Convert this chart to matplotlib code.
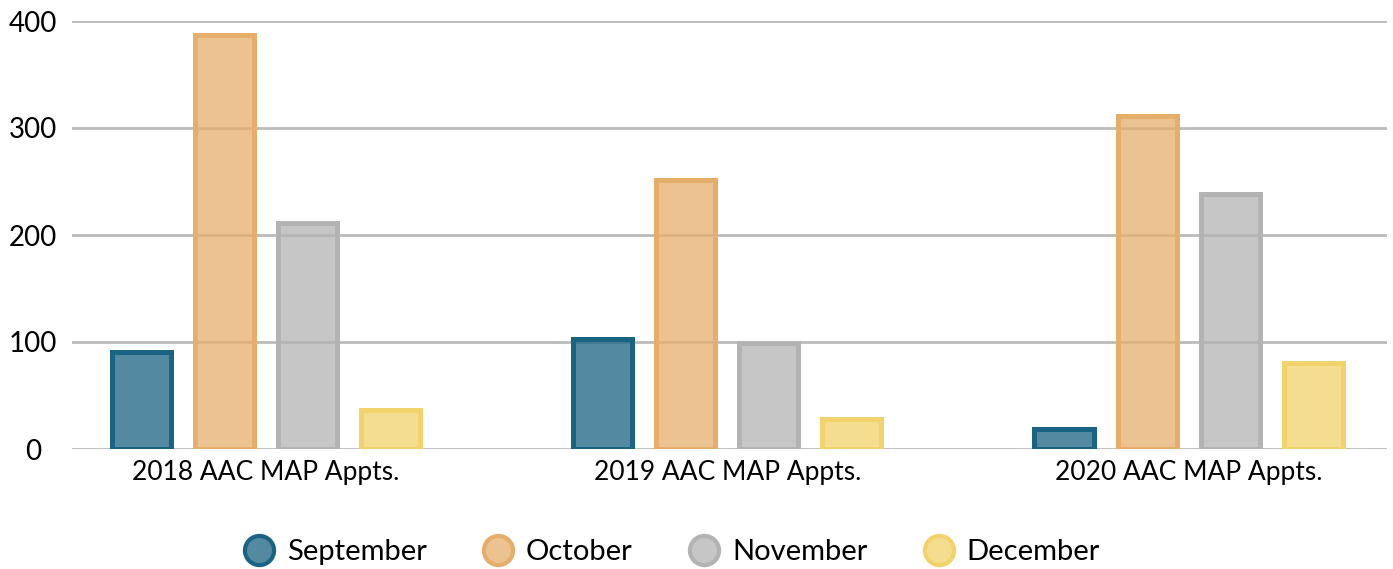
import numpy as np
import matplotlib.pyplot as plt
import matplotlib.colors as mc
from matplotlib.lines import Line2D

groups = ["2018 AAC MAP Appts.", "2019 AAC MAP Appts.", "2020 AAC MAP Appts."]
months = ["September", "October", "November", "December"]
september = [91, 103, 19]
october = [387, 251, 311]
november = [211, 99, 238]
december = [36, 28, 80]
colors = ["#1B6382", "#E6AE6B", "#B3B3B3", "#F2D26A"]


def light(c, a=0.75):
    r, g, b = mc.to_rgb(c)
    return (1 - a * (1 - r), 1 - a * (1 - g), 1 - a * (1 - b))


plt.rcParams['font.family'] = ['Lato', 'DejaVu Sans']

fig = plt.figure(figsize=(13.93, 5.69), dpi=100)
ax = fig.add_axes([72 / 1393, 1 - 449 / 569, (1387 - 72) / 1393, (449 - 21) / 569])

x = np.arange(len(groups))
width = 0.128
step = 0.18
series = [september, october, november, december]
for i, (vals, c) in enumerate(zip(series, colors)):
    ax.bar(x + (i - 1.5) * step, vals, width, color=c, alpha=0.75,
           edgecolor="none", zorder=2)
    ax.bar(x + (i - 1.5) * step, vals, width, facecolor="none",
           edgecolor=c, linewidth=3.6, zorder=3)

ax.set_xlim(-0.42, 2.43)
ax.set_ylim(0, 400)
ax.set_yticks([0, 100, 200, 300, 400])
ax.set_xticks(x)
ax.set_xticklabels(groups, fontsize=19)
ax.tick_params(axis="y", labelsize=20, length=0, pad=28)
ax.tick_params(axis="x", length=0, pad=8)
for lab in ax.get_yticklabels():
    lab.set_horizontalalignment("center")
ax.yaxis.grid(True, color="#BBBBBB", linewidth=2, zorder=1)
ax.set_axisbelow(True)
for s in ax.spines.values():
    s.set_visible(False)

handles = [Line2D([], [], marker="o", linestyle="none", markersize=21,
                  markerfacecolor=light(c), markeredgecolor=c,
                  markeredgewidth=3) for c in colors]
fig.legend(handles, months, loc="center", bbox_to_anchor=(0.48, 1 - 552 / 569),
           ncol=4, frameon=False, fontsize=21, handletextpad=0.2,
           columnspacing=1.7, handlelength=1.5)

fig.savefig("out.png", dpi=100)
